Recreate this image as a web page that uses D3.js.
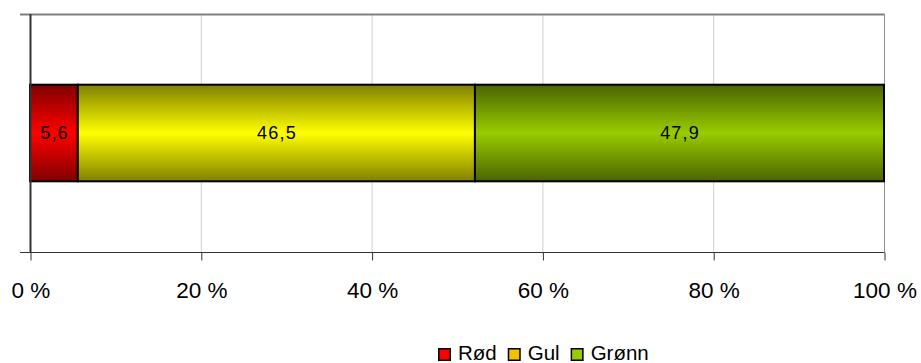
<!DOCTYPE html>
<html><head><meta charset="utf-8">
<script src="https://cdn.jsdelivr.net/npm/d3@7"></script>
<style>body{margin:0;background:#fff}svg{display:block;font-family:"Liberation Sans",Arial,sans-serif}</style>
</head><body><svg id="c" width="921" height="363"></svg>
<script>
const categories = ["Rød", "Gul", "Grønn"];
const values = [5.6, 46.5, 47.9];
const labels = ["5,6", "46,5", "47,9"];
const tickValues = [0, 20, 40, 60, 80, 100];
const tickLabels = ["0 %", "20 %", "40 %", "60 %", "80 %", "100 %"];
const midColors = ["#ff0000", "#ffff00", "#99cc00"];
const edgeColors = ["#800000", "#808000", "#4a6300"];
const legendColors = ["#ff0000", "#f2c200", "#99cc00"];

const svg = d3.select("#c");
const L = 30, R = 884, T = 14, B = 252;
const x = d3.scaleLinear().domain([0, 100]).range([L, R]);
const y = d3.scaleBand().domain(["a"]).range([T, B]).paddingInner(0.59).paddingOuter(0.3);

const defs = svg.append("defs");
categories.forEach((c, i) => {
  const g = defs.append("linearGradient").attr("id", "g" + i).attr("x1", 0).attr("y1", 0).attr("x2", 0).attr("y2", 1);
  g.append("stop").attr("offset", "0%").attr("stop-color", edgeColors[i]);
  g.append("stop").attr("offset", "50%").attr("stop-color", midColors[i]);
  g.append("stop").attr("offset", "100%").attr("stop-color", edgeColors[i]);
});

// gridlines
svg.append("g").selectAll("line").data(tickValues.slice(1, -1)).join("line")
  .attr("x1", d => x(d) + 0.5).attr("x2", d => x(d) + 0.5).attr("y1", T).attr("y2", B)
  .attr("stroke", "#d0d0d0").attr("stroke-width", 1);
// top & right border
svg.append("line").attr("x1", 20).attr("x2", R + 0.5).attr("y1", T + 0.5).attr("y2", T + 0.5).attr("stroke", "#808080").attr("stroke-width", 2);
svg.append("line").attr("x1", R + 0.5).attr("x2", R + 0.5).attr("y1", T).attr("y2", B).attr("stroke", "#909090").attr("stroke-width", 1);

// bars
const stack = [];
let acc = 0;
values.forEach((v, i) => { stack.push({ c: categories[i], x0: acc, x1: acc + v, lab: labels[i], i }); acc += v; });
const bw = y.bandwidth();
const by = y("a");
svg.append("g").selectAll("rect").data(stack).join("rect")
  .attr("x", d => x(d.x0)).attr("y", by).attr("width", d => x(d.x1) - x(d.x0)).attr("height", bw)
  .attr("fill", d => `url(#g${d.i})`).attr("stroke", "#000").attr("stroke-width", 2);
svg.append("g").selectAll("text").data(stack).join("text")
  .attr("x", d => (x(d.x0) + x(d.x1)) / 2 + 0.6).attr("y", by + bw / 2 + 5.5)
  .attr("text-anchor", "middle").attr("font-size", 18).attr("letter-spacing", 1.2).attr("fill", "#000").text(d => d.lab);

// axes
svg.append("line").attr("x1", L + 0.5).attr("x2", L + 0.5).attr("y1", T).attr("y2", B).attr("stroke", "#333").attr("stroke-width", 2);
svg.append("line").attr("x1", 20).attr("x2", L).attr("y1", B + 0.5).attr("y2", B + 0.5).attr("stroke", "#333");
const xAxis = d3.axisBottom(x).tickValues(tickValues).tickFormat((d, i) => tickLabels[i]).tickSize(8);
const ax = svg.append("g").attr("transform", `translate(0.5,${B + 0.5})`).call(xAxis);
ax.select(".domain").attr("stroke", "#333").attr("d", `M${L - 0.5},0H${R}`);
ax.selectAll(".tick line").attr("stroke", "#333");
ax.selectAll(".tick text").attr("font-size", 22.5).attr("fill", "#000").attr("dy", null).attr("y", 297 - B)
  .attr("font-family", '"Liberation Sans",Arial,sans-serif');

// legend
const lg = svg.append("g");
let lx = 438;
categories.forEach((c, i) => {
  lg.append("rect").attr("x", lx + 0.75).attr("y", 348.75).attr("width", 11.5).attr("height", 11.5)
    .attr("fill", legendColors[i]).attr("stroke", "#000").attr("stroke-width", 1.5);
  const t = lg.append("text").attr("x", lx + 20).attr("y", 360).attr("font-size", 20.5).attr("fill", "#000").text(c);
  lx = lx + 20 + t.node().getComputedTextLength() + 11;
});
</script></body></html>
